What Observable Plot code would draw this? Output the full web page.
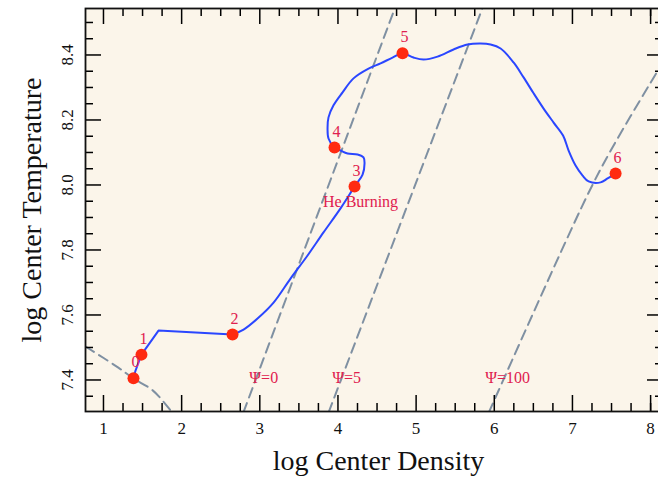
<!DOCTYPE html>
<html><head><meta charset="utf-8">
<script src="https://cdn.jsdelivr.net/npm/d3@7"></script>
<script src="https://cdn.jsdelivr.net/npm/@observablehq/plot@0.6"></script>
<style>
html,body{margin:0;padding:0;background:#fff;overflow:hidden;}
#chart svg{max-width:none !important;}
</style>
</head><body><div id="chart"></div>
<script>
// Evolutionary track (log rho_c, log T_c)
const trackX = [1.384,1.410,1.486,1.704,2.651,2.792,2.971,3.176,3.393,3.611,3.815,4.033,4.212,4.315,4.340,4.327,4.251,4.123,4.033,3.956,3.879,3.867,3.879,3.943,4.059,4.199,4.391,4.545,4.698,4.826,4.967,5.095,5.274,5.479,5.658,5.825,5.953,6.081,6.247,6.375,6.503,6.631,6.759,6.880,6.951,7.040,7.130,7.207,7.360,7.450,7.552];
const trackY = [7.405,7.429,7.478,7.552,7.540,7.555,7.589,7.638,7.712,7.783,7.854,7.928,7.995,8.032,8.066,8.085,8.094,8.097,8.106,8.115,8.143,8.177,8.208,8.245,8.285,8.328,8.358,8.374,8.392,8.405,8.392,8.386,8.395,8.417,8.432,8.435,8.432,8.420,8.377,8.331,8.282,8.235,8.192,8.152,8.106,8.060,8.029,8.011,8.008,8.020,8.035];
// Marked stages
const stageX = [1.384,1.486,2.651,4.212,3.956,4.826,7.552];
const stageY = [7.405,7.478,7.540,7.995,8.115,8.405,8.035];
const stageLabel = ["0","1","2","3","4","5","6"];
// Degeneracy lines
const psi0X = [2.79,4.73];   const psi0Y = [7.30,8.545];
const psi5X = [3.88,5.85];   const psi5Y = [7.30,8.545];
const psi100X = [5.93,7.17,7.49,8.07]; const psi100Y = [7.30,7.958,8.106,8.343];
const edgeX = [0.77,1.19,1.38,1.63,1.86,1.90]; const edgeY = [7.503,7.438,7.405,7.368,7.306,7.294];
const psiLabelX = [3.05,4.11,6.17]; const psiLabelY = [7.405,7.405,7.405];
const psiLabel = ["Ψ=0","Ψ=5","Ψ=100"];
const noteX = [4.289]; const noteY = [7.949]; const noteText = ["He Burning"];
// Ticks
const xMajor = [1,2,3,4,5,6,7,8];
const xMinor = [1.25,1.5,1.75,2.25,2.5,2.75,3.25,3.5,3.75,4.25,4.5,4.75,5.25,5.5,5.75,6.25,6.5,6.75,7.25,7.5,7.75,8.0];
const yMajor = [7.4,7.6,7.8,8.0,8.2,8.4];
const yMinor = [7.35,7.45,7.5,7.55,7.65,7.7,7.75,7.85,7.9,7.95,8.05,8.1,8.15,8.25,8.3,8.35,8.45,8.5];
const xTitle = "log Center Density";
const yTitle = "log Center Temperature";

const toPts = (xs, ys) => xs.map((x, i) => ({x, y: ys[i]}));
const track = toPts(trackX, trackY);
const stages = stageX.map((x, i) => ({x, y: stageY[i], t: stageLabel[i]}));
const psiLabels = psiLabelX.map((x, i) => ({x, y: psiLabelY[i], t: psiLabel[i]}));
const notes = noteX.map((x, i) => ({x, y: noteY[i], t: noteText[i]}));

const dashStyle = {x: "x", y: "y", stroke: "#7f90a2", strokeWidth: 2, strokeDasharray: "10,6", clip: true};
const red = "#ff2a10", crimson = "#e0204e", blue = "#2a46ff";
const FONT = "Liberation Serif, Times New Roman, serif";

const W = 663, H = 477, ML = 85, MR = 0, MT = 8, MB = 66;
const FW = W - ML - MR, FH = H - MT - MB;
// inward ticks: full-frame rules inset so only a short stub at one edge remains
const tickX = (vals, side, len) => side === "bottom"
  ? Plot.ruleX(vals, {x: d => d, stroke: "#000", strokeWidth: 1.5, insetTop: FH - len})
  : Plot.ruleX(vals, {x: d => d, stroke: "#000", strokeWidth: 1.5, insetBottom: FH - len});
const tickY = (vals, side, len) => side === "left"
  ? Plot.ruleY(vals, {y: d => d, stroke: "#000", strokeWidth: 1.5, insetRight: FW - len})
  : Plot.ruleY(vals, {y: d => d, stroke: "#000", strokeWidth: 1.5, insetLeft: FW - len});

const chart = Plot.plot({
  width: W, height: H,
  marginLeft: ML, marginRight: MR, marginTop: MT, marginBottom: MB,
  style: {fontFamily: FONT, background: "#fff"},
  x: {domain: [0.77, 8.165], axis: null},
  y: {domain: [7.303, 8.543], axis: null},
  marks: [
    Plot.frame({fill: "#fbf5ea", stroke: "none"}),
    Plot.line(toPts(edgeX, edgeY), {...dashStyle, curve: "catmull-rom"}),
    Plot.line(toPts(psi0X, psi0Y), dashStyle),
    Plot.line(toPts(psi5X, psi5Y), dashStyle),
    Plot.line(toPts(psi100X, psi100Y), {...dashStyle, curve: "catmull-rom"}),
    Plot.line(track.slice(0, 5), {x: "x", y: "y", stroke: blue, strokeWidth: 2}),
    Plot.line(track.slice(4), {x: "x", y: "y", stroke: blue, strokeWidth: 2, curve: "catmull-rom"}),
    Plot.dot(stages, {x: "x", y: "y", r: 6, fill: red, stroke: "none"}),
    Plot.text(stages, {x: "x", y: "y", text: "t", dx: 2, dy: -16, fill: crimson, fontSize: 16}),
    Plot.text(psiLabels, {x: "x", y: "y", text: "t", fill: crimson, fontSize: 16}),
    Plot.text(notes, {x: "x", y: "y", text: "t", fill: crimson, fontSize: 16}),
    // tick labels
    Plot.text(xMajor, {x: d => d, frameAnchor: "bottom", dy: 22, text: d => String(d), fontSize: 17, fill: "#111"}),
    Plot.text(yMajor, {y: d => d, frameAnchor: "left", dx: -18, rotate: -90, textAnchor: "middle", lineAnchor: "middle", text: d => d.toFixed(1), fontSize: 17, fill: "#111"}),
    // axis titles
    Plot.text([xTitle], {frameAnchor: "bottom", dy: 58, dx: 4, lineAnchor: "bottom", text: d => d, fontSize: 28, fill: "#111"}),
    Plot.text([yTitle], {frameAnchor: "left", dx: -53, rotate: -90, textAnchor: "middle", lineAnchor: "middle", text: d => d, fontSize: 28, fill: "#111"}),
    // ticks (inward, all four sides)
    tickX(xMajor, "bottom", 16), tickX(xMinor, "bottom", 8),
    tickX(xMajor, "top", 16), tickX(xMinor, "top", 8),
    tickY(yMajor, "left", 16), tickY(yMinor, "left", 8),
    tickY(yMajor, "right", 16), tickY(yMinor, "right", 8),
    Plot.frame({stroke: "#111", strokeWidth: 1.8})
  ]
});
document.getElementById("chart").appendChild(chart);
</script>
</body></html>
